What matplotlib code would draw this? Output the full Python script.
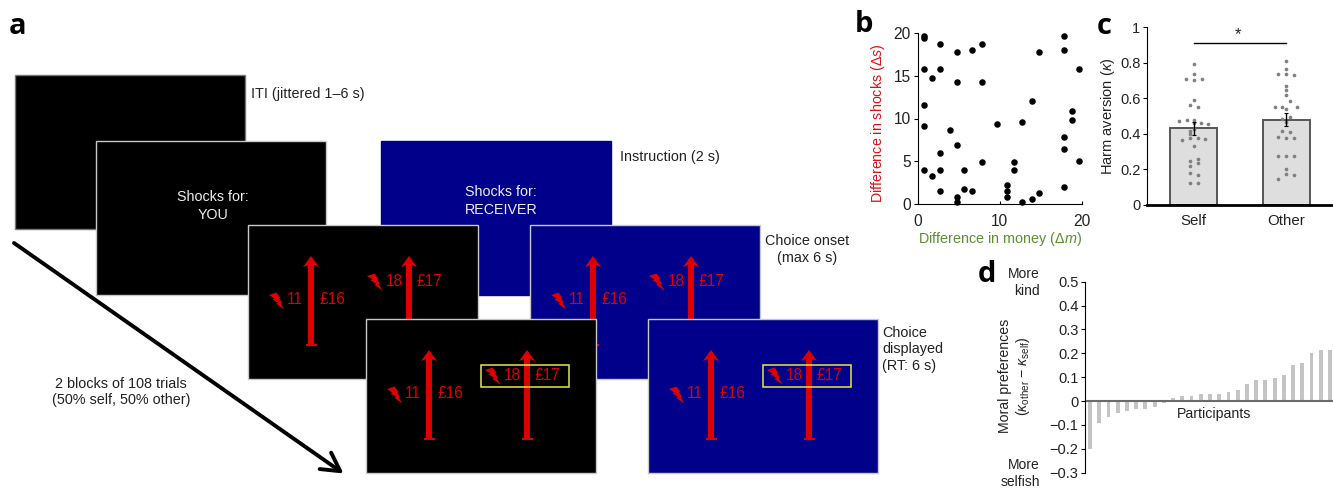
import matplotlib
matplotlib.use("Agg")
import matplotlib.pyplot as plt
from matplotlib.patches import Rectangle, Polygon

plt.rcParams['font.family'] = ['Liberation Sans', 'DejaVu Sans']
plt.rcParams['mathtext.fontset'] = 'custom'
plt.rcParams['mathtext.rm'] = 'Liberation Sans'
plt.rcParams['mathtext.it'] = 'Liberation Sans:italic'
plt.rcParams['mathtext.bf'] = 'Liberation Sans:bold'

# Panel b
money_diff = [0.8,0.8,2.7,4.8,6.6,7.8,17.8,17.8,14.8,19.7,0.8,2.7,1.75,4.8,7.8,13.9,0.8,18.8,18.8,12.7,9.7,0.8,3.9,
              17.8,17.8,4.8,2.7,7.8,11.8,19.7,0.8,2.7,5.7,11.8,1.75,10.85,10.85,10.85,17.8,2.7,5.7,6.6,14.8,13.9,4.8,4.8,12.7]
shock_diff = [19.6,19.4,18.7,17.8,18.0,18.7,19.6,18.0,17.8,15.8,15.8,15.8,14.7,14.25,14.25,12.0,11.6,10.9,9.8,9.55,9.35,9.1,8.7,
              7.8,6.45,6.9,6.0,4.9,4.9,5.1,4.0,4.0,4.0,4.0,3.3,2.2,1.55,0.9,2.0,1.55,1.8,1.55,1.3,0.65,0.9,0.25,0.25]

# Panel c
conditions = ['Self', 'Other']
kappa_mean = [0.43, 0.48]
kappa_sem = [0.037, 0.037]
self_offset = [0,0,-.086,0,.086,0,-.043,.043,-.154,-.075,0,.079,.154,0,-.043,0,-.043,-.122,-.043,.043,.122,0,.043,.043,-.043,-.043,-.043,.043,-.043,.043]
self_kappa = [.795,.739,.707,.703,.707,.590,.560,.553,.472,.476,.476,.461,.455,.461,.417,.424,.398,.365,.376,.376,.372,.329,.259,.235,.244,.220,.179,.169,.124,.124]
other_offset = [0,0,-.086,0,.082,0,0,0,.039,-.122,-.043,0,.118,.039,-.043,0,-.043,.039,-.086,0,.082,-.086,0,.082,0,-.086,0,.082]
other_kappa = [.808,.763,.739,.737,.729,.669,.645,.620,.585,.551,.549,.539,.551,.496,.485,.468,.417,.410,.383,.374,.376,.276,.276,.273,.199,.145,.171,.165]

# Panel d
moral_pref = [-0.2,-0.09,-0.065,-0.05,-0.042,-0.033,-0.033,-0.025,-0.008,0.013,0.02,0.02,0.03,0.03,0.03,0.037,0.045,0.07,
              0.087,0.087,0.095,0.11,0.15,0.16,0.2,0.213,0.213]

W, H = 1333, 488
INK = '#222222'
fig = plt.figure(figsize=(13.33, 4.88), dpi=100, facecolor='white')

def axes_px(l, t, r, b):
    return fig.add_axes([l / W, 1 - b / H, (r - l) / W, (b - t) / H])

# ---------- Panel a (schematic, pixel space) ----------
bg = fig.add_axes([0, 0, 1, 1])
bg.set_xlim(0, W); bg.set_ylim(H, 0); bg.axis('off')

RED = '#dd0000'
NAVY = '#00008b'
BOLT = [(-8,-6),(-0.5,-8.5),(3.5,-3),(2,-2.7),(5,1.7),(3.5,2),(7.5,8.5),(-0.5,3),(1,1.7),(-4.5,-1.5),(-2.8,-2.7)]

def screen(l, t, color, border='#c8c8c8', z=1):
    bg.add_patch(Rectangle((l, t), 229.5, 154, fc=color, ec=border, lw=1, zorder=z))

def red_arrow(x, t, z):
    y0, y1 = t + 31, t + 121
    bg.add_patch(Rectangle((x - 3.2, y0 + 6), 6.4, y1 - y0 - 6, fc=RED, ec='none', zorder=z))
    bg.add_patch(Rectangle((x - 5.5, y1 - 2), 11, 2, fc=RED, ec='none', zorder=z))
    bg.add_patch(Polygon([(x, y0), (x + 8, y0 + 11), (x, y0 + 8), (x - 8, y0 + 11)], fc=RED, ec='none', zorder=z))

def bolt(cx, cy, z):
    bg.add_patch(Polygon([(cx + a, cy + b) for a, b in BOLT], fc=RED, ec='none', zorder=z))

def choice(l, t, z, chosen=False):
    red_arrow(l + 63, t, z)
    red_arrow(l + 161, t, z)
    bolt(l + 29, t + 76, z + .1)
    bolt(l + 127, t + 57, z + .1)
    for dx, dy, s in [(47, 75, '11'), (84, 75, '£16'), (146, 57, '18'), (181.5, 57, '£17')]:
        bg.text(l + dx, t + dy, s, color=RED, fontsize=11.2, ha='center', va='center', zorder=z + .1)
    if chosen:
        bg.add_patch(Rectangle((l + 115, t + 46), 88, 22, fc='none', ec='#e8e840', lw=1.1, zorder=z + .2))

screen(15, 75, 'black', border='#777777', z=1)
screen(96, 141, 'black', z=2)
screen(381, 141, NAVY, border=NAVY, z=2)
screen(248, 225, 'black', z=3); choice(248, 225, 3.1)
screen(530, 225, NAVY, z=4); choice(530, 225, 4.1)
screen(366, 319, 'black', z=5); choice(366, 319, 5.1, True)
screen(648, 319, NAVY, z=6); choice(648, 319, 6.1, True)

txt = dict(fontsize=10.4, color=INK, va='center')
bg.text(251, 94, 'ITI (jittered 1–6 s)', **txt)
bg.text(620, 157, 'Instruction (2 s)', **txt)
bg.text(807.5, 249.5, 'Choice onset\n(max 6 s)', ha='center', linespacing=1.25, **txt)
bg.text(882, 349.5, 'Choice\ndisplayed\n(RT: 6 s)', ha='left', linespacing=1.25, **txt)
bg.text(121, 392, '2 blocks of 108 trials\n(50% self, 50% other)', ha='center', linespacing=1.2, **txt)
bg.text(213, 206, 'Shocks for:\nYOU', color='#eeeeee', fontsize=10.3, ha='center', va='center', linespacing=1.3, zorder=2.5)
bg.text(501, 201, 'Shocks for:\nRECEIVER', color='#eeeeee', fontsize=10.3, ha='center', va='center', linespacing=1.3, zorder=2.5)
bg.annotate('', xy=(343.5, 473.5), xytext=(14, 243),
            arrowprops=dict(arrowstyle='->,head_length=0.65,head_width=0.36', lw=2.8, color='black', shrinkA=0, shrinkB=0, mutation_scale=20))

for s, x, y in [('a', 18, 26), ('b', 864, 25), ('c', 1104, 26), ('d', 987, 274)]:
    bg.text(x, y, s, fontsize=21, fontweight='bold', family='Open Sans', ha='center', va='center', color='black')

# ---------- Panel b ----------
ax = axes_px(917.7, 32.7, 1081.7, 204.3)
ax.scatter(money_diff, shock_diff, s=22, color='black', clip_on=False, zorder=3, linewidths=0)
ax.set_xlim(0, 20); ax.set_ylim(0, 20)
ax.set_xticks([0, 10, 20]); ax.set_yticks([0, 5, 10, 15, 20])
ax.set_xlabel('Difference in money ($\\Delta m$)', color='#5b8f32', fontsize=10.4, labelpad=1)
ax.set_ylabel('Difference in shocks ($\\Delta s$)', color='#e01010', fontsize=10.3, labelpad=5, y=0.474)
ax.tick_params(axis='y', labelsize=11.2, length=3, width=0.8, pad=2, labelcolor=INK)
ax.tick_params(axis='x', labelsize=11.2, length=2, width=0.8, pad=7, direction='in', labelcolor=INK)
ax.patch.set_alpha(0)
for k in ('top', 'right'):
    ax.spines[k].set_visible(False)

# ---------- Panel c ----------
ax = axes_px(1147.3, 27.3, 1332.7, 204.7)
ax.bar([0, 1], kappa_mean, width=0.505, color='#dedede', edgecolor='#555555', linewidth=1.4, zorder=1)
ax.errorbar([0, 1], kappa_mean, yerr=kappa_sem, fmt='none', ecolor='black', elinewidth=1, capsize=1.5, capthick=0.8, zorder=4)
ax.scatter(self_offset, self_kappa, s=7, color='#808080', linewidths=0, zorder=3)
ax.scatter([1 + v for v in other_offset], other_kappa, s=7, color='#808080', linewidths=0, zorder=3)
ax.plot([0, 1], [0.911, 0.911], color='black', lw=1)
ax.text(0.48, 0.957, '*', fontsize=12, ha='center', va='center', color=INK)
ax.set_xlim(-0.497, 1.497); ax.set_ylim(0, 1)
ax.set_xticks([0, 1]); ax.set_xticklabels(conditions)
ax.set_yticks([0, .2, .4, .6, .8, 1]); ax.set_yticklabels(['0', '0.2', '0.4', '0.6', '0.8', '1'])
ax.tick_params(axis='x', length=0, labelsize=10.8, pad=7, labelcolor=INK)
ax.tick_params(axis='y', length=3, width=0.8, labelsize=10.5, pad=2, labelcolor=INK)
ax.set_ylabel('Harm aversion ($\\kappa$)', fontsize=10.5, labelpad=2, color=INK)
ax.patch.set_alpha(0)
for k in ('top', 'right'):
    ax.spines[k].set_visible(False)
ax.spines['bottom'].set_linewidth(2)
ax.spines['left'].set_linewidth(0.8)

# ---------- Panel d ----------
ax = axes_px(1085.3, 281.7, 1333, 472.7)
ax.bar(range(len(moral_pref)), moral_pref, width=0.42, color='#c4c4c4', linewidth=0, zorder=1)
ax.axhline(0, color='#6a6a6a', lw=1.5, zorder=2)
ax.set_xlim(-0.51, 26.33); ax.set_ylim(-0.3, 0.5)
ax.set_xticks([])
ax.set_yticks([-.3, -.2, -.1, 0, .1, .2, .3, .4, .5])
ax.set_yticklabels(['−0.3', '−0.2', '−0.1', '0', '0.1', '0.2', '0.3', '0.4', '0.5'])
ax.tick_params(axis='y', length=3, width=0.8, labelsize=10.5, pad=2, labelcolor=INK)
ax.patch.set_alpha(0)
for k in ('top', 'right', 'bottom'):
    ax.spines[k].set_visible(False)
bg.text(1214, 414, 'Participants', fontsize=10.2, ha='center', va='center', color=INK)
bg.text(1040, 282.5, 'More\nkind', fontsize=10, ha='right', va='center', multialignment='right', linespacing=1.2, color=INK)
bg.text(1040, 473.5, 'More\nselfish', fontsize=10, ha='right', va='center', multialignment='right', linespacing=1.2, color=INK)
bg.text(1015, 376, 'Moral preferences\n($\\kappa_{\\mathrm{other}}$ − $\\kappa_{\\mathrm{self}}$)', fontsize=10.2, rotation=90,
        ha='center', va='center', multialignment='center', linespacing=1.2, color=INK)

fig.savefig('out.png', dpi=100)
